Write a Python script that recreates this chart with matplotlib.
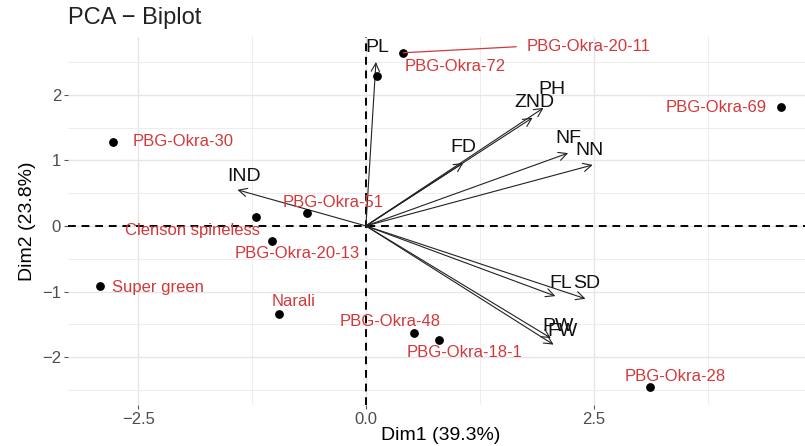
import matplotlib
matplotlib.use("Agg")
import matplotlib.pyplot as plt
from matplotlib.ticker import FixedLocator

plt.rcParams["font.family"] = ["Liberation Sans", "DejaVu Sans"]

# individuals (coordinates on Dim1 / Dim2)
ind_names = ["PBG-Okra-20-11", "PBG-Okra-72", "PBG-Okra-69", "PBG-Okra-30",
             "PBG-Okra-51", "Clenson spineless", "PBG-Okra-20-13", "Super green",
             "Narali", "PBG-Okra-48", "PBG-Okra-18-1", "PBG-Okra-28"]
ind_x = [0.41, 0.12, 4.56, -2.78, -0.65, -1.21, -1.03, -2.92, -0.95, 0.53, 0.80, 3.12]
ind_y = [2.64, 2.29, 1.82, 1.28, 0.20, 0.14, -0.23, -0.92, -1.34, -1.63, -1.74, -2.46]

# variables (arrow tips)
var_names = ["PL", "PH", "ZND", "FD", "NF", "NN", "IND", "FL", "SD", "PW", "FW"]
var_x = [0.11, 1.95, 1.83, 1.07, 2.22, 2.49, -1.41, 2.08, 2.41, 2.03, 2.06]
var_y = [2.50, 1.80, 1.65, 0.96, 1.11, 0.93, 0.55, -1.07, -1.11, -1.71, -1.81]

xticks = [-2.5, 0, 2.5]
yticks = [-2, -1, 0, 1, 2]

# label offsets in pixels (repelled text positions)
ind_off = [(185, 6), (78, 9), (-65, -1), (70, 0), (26, 10), (-63, -14),
           (25, -13), (58, -1), (14, 12), (-24, 11), (26, -12), (25, 11)]
var_off = [(1, 14), (8, 18), (2, 15), (0, 15), (0, 15), (-3, 14),
           (7, 13), (5, 13), (1, 15), (7, 12), (9, 13)]

RED = "#d2393b"
px = 72 / 100

fig = plt.figure(figsize=(8.05, 4.46), dpi=100)
ax = fig.add_axes([0.0845, 0.092, 0.9155, 0.825])
ax.set_xlim(-3.27, 4.82)
ax.set_ylim(-2.73, 2.88)

for s in ax.spines.values():
    s.set_visible(False)
ax.xaxis.set_major_locator(FixedLocator(xticks))
ax.xaxis.set_minor_locator(FixedLocator([-1.25, 1.25, 3.75]))
ax.yaxis.set_major_locator(FixedLocator(yticks))
ax.yaxis.set_minor_locator(FixedLocator([-2.5, -1.5, -0.5, 0.5, 1.5, 2.5]))
ax.grid(which="major", color="#e6e6e6", lw=1.0)
ax.grid(which="minor", color="#ededed", lw=0.7)
ax.set_axisbelow(True)
ax.tick_params(which="major", length=3, color="#555555", labelsize=12,
               labelcolor="#4d4d4d", pad=2)
ax.tick_params(which="minor", length=0)
ax.set_xticklabels([f"{t:.1f}".replace("-", "\u2212") for t in xticks])
ax.set_yticklabels([f"{t}".replace("-", "\u2212") for t in yticks])

ax.axhline(0, color="black", lw=1.4, ls=(0, (4, 3)), zorder=1)
ax.axvline(0, color="black", lw=1.4, ls=(0, (4, 3)), zorder=1)

for name, x, y, (dx, dy) in zip(var_names, var_x, var_y, var_off):
    ax.annotate("", xy=(x, y), xytext=(0, 0),
                arrowprops=dict(arrowstyle="->,head_length=0.6,head_width=0.3",
                                color="#222222", lw=0.8, shrinkA=0, shrinkB=0))
    ax.annotate(name, xy=(x, y), xytext=(dx * px, dy * px), textcoords="offset points",
                ha="center", va="center", fontsize=14, color="#111111")

ax.scatter(ind_x, ind_y, s=28, color="black", zorder=3)
for name, x, y, (dx, dy) in zip(ind_names, ind_x, ind_y, ind_off):
    ax.annotate(name, xy=(x, y), xytext=(dx * px, dy * px), textcoords="offset points",
                ha="center", va="center", fontsize=12, color=RED, zorder=4)
    if abs(dx) > 120:
        ax.annotate("", xy=(x, y), xytext=((dx - 72) * px, dy * px),
                    textcoords="offset points",
                    arrowprops=dict(arrowstyle="-", color=RED, lw=0.9,
                                    shrinkA=0, shrinkB=0))

ax.set_ylabel("Dim2 (23.8%)", fontsize=14, labelpad=4)
fig.text(0.548, 1 - 435 / 446, "Dim1 (39.3%)", fontsize=14, color="black",
         ha="center", va="center")
fig.text(0.0845, 0.96, "PCA \u2212 Biplot", fontsize=17, color="#222222",
         ha="left", va="center")

fig.savefig("out.png", dpi=100)
